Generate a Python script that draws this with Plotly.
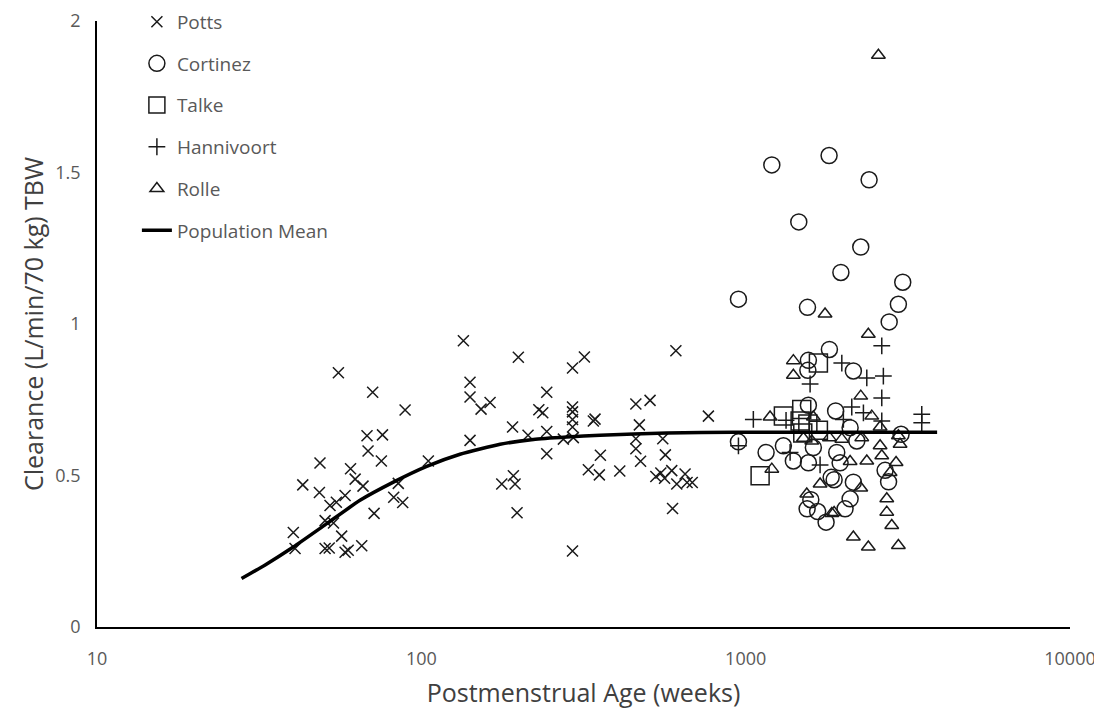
import plotly.graph_objects as go

# ---- data (Postmenstrual age in weeks, clearance L/min/70kg) ----
potts_age = [40.3, 40.8, 43.1, 48.5, 48.7, 50.5, 50.5, 52.0, 52.3, 53.6, 54.7, 55.5, 56.8, 58.2,
             58.2, 59.5, 60.5, 62.5, 65.5, 66.1, 68.0, 68.5, 70.8, 71.5, 75.3, 75.9, 82.2, 84.9,
             87.6, 89.1, 105.1, 134.8, 141.3, 141.3, 141.3, 152.8, 162.9, 177.0, 191.1, 192.2,
             194.5, 197.3, 199.1, 213.3, 230.3, 236.8, 243.6, 243.6, 243.6, 274.1, 292.5, 292.5,
             292.5, 292.5, 292.5, 292.5, 294.2, 318.2, 327.3, 339.1, 343.2, 353.9, 356.5, 409.1,
             458.6, 458.6, 458.6, 470.1, 474.2, 507.2, 528.5, 547.6, 562.3, 555.2, 565.5, 591.7,
             595.1, 609.3, 613.2, 650.4, 659.7, 684.5, 767.4]
potts_cl = [0.312, 0.259, 0.469, 0.444, 0.541, 0.351, 0.259, 0.261, 0.401, 0.343, 0.412, 0.839,
            0.300, 0.434, 0.247, 0.253, 0.522, 0.488, 0.268, 0.465, 0.631, 0.581, 0.775, 0.375,
            0.548, 0.634, 0.428, 0.474, 0.411, 0.716, 0.548, 0.945, 0.808, 0.759, 0.616, 0.719,
            0.741, 0.472, 0.660, 0.499, 0.472, 0.377, 0.890, 0.633, 0.717, 0.707, 0.775, 0.645,
            0.572, 0.620, 0.855, 0.726, 0.710, 0.685, 0.660, 0.251, 0.625, 0.891, 0.519, 0.680,
            0.686, 0.502, 0.567, 0.515, 0.736, 0.621, 0.588, 0.667, 0.547, 0.748, 0.497, 0.508,
            0.491, 0.621, 0.568, 0.516, 0.391, 0.912, 0.472, 0.505, 0.477, 0.477, 0.696]

cortinez_age = [950, 1204, 1458, 1551, 1808, 1966, 2264, 2402, 3050, 2957, 2770, 1812, 1561, 1555,
                2148, 1561, 1894, 2099, 3014, 950, 1307, 1156, 1403, 1561, 1617, 1909, 2201, 1955,
                2691, 2758, 1835, 1874, 2148, 1588, 1547, 1667, 1770, 2025, 2099]
cortinez_cl = [1.082, 1.525, 1.337, 1.055, 1.556, 1.170, 1.254, 1.476, 1.138, 1.065, 1.007, 0.916,
               0.880, 0.847, 0.845, 0.732, 0.713, 0.658, 0.636, 0.611, 0.598, 0.576, 0.548, 0.542,
               0.592, 0.576, 0.614, 0.542, 0.517, 0.479, 0.494, 0.486, 0.478, 0.420, 0.390, 0.381,
               0.346, 0.390, 0.423]

talke_age = [1108, 1676, 1307, 1489, 1472, 1676, 1500, 1555]
talke_cl = [0.499, 0.871, 0.696, 0.718, 0.680, 0.649, 0.640, 0.670]

hannivoort_age = [950, 1056, 1332, 1371, 1580, 1696, 1979, 2363, 2658, 2628, 2628, 2124, 2307,
                  2001, 2628, 3491, 3491]
hannivoort_cl = [0.598, 0.685, 0.682, 0.576, 0.802, 0.535, 0.871, 0.822, 0.828, 0.928, 0.756,
                 0.726, 0.707, 0.685, 0.680, 0.702, 0.674]

rolle_age = [2566, 1757, 2389, 1403, 1403, 1189, 1617, 2264, 2448, 2597, 1507, 1812, 1599, 1979,
             2280, 2957, 2993, 2597, 2628, 2363, 2099, 2909, 2788, 1204, 1543, 1696, 1843, 2264,
             2723, 2723, 2821, 2148, 2389, 2957, 1874]
rolle_cl = [1.887, 1.033, 0.966, 0.879, 0.831, 0.693, 0.693, 0.762, 0.696, 0.660, 0.623, 0.625,
            0.614, 0.620, 0.625, 0.631, 0.603, 0.598, 0.565, 0.548, 0.546, 0.543, 0.510, 0.521,
            0.439, 0.472, 0.375, 0.459, 0.423, 0.379, 0.335, 0.297, 0.264, 0.269, 0.378]

mean_age = [27.9, 33.0, 40.3, 51.1, 64.7, 82.0, 103.9, 131.6, 174.9, 221.5, 280.8, 355.6, 571.2,
            916.6, 3893]
mean_cl = [0.160, 0.205, 0.264, 0.341, 0.418, 0.478, 0.530, 0.570, 0.603, 0.619, 0.627, 0.633,
           0.640, 0.643, 0.643]

x_ticks = [10, 100, 1000, 10000]
x_ticktext = ["10", "100", "1000", "10000"]

FONT = "Open Sans"
GREY = "#595959"
INK = "#1a1a1a"

fig = go.Figure()

def add_pts(name, xs, ys, symbol, size, group):
    fig.add_trace(go.Scatter(
        x=xs, y=ys, mode="markers", name=name, legendgroup=group,
        marker=dict(symbol=symbol, size=size, color=INK,
                    line=dict(color=INK, width=1.5)),
    ))

add_pts("Potts", potts_age, potts_cl, "x-thin-open", 11, "a")
add_pts("Cortinez", cortinez_age, cortinez_cl, "circle-open", 16, "b")
add_pts("Talke", talke_age, talke_cl, "square-open", 18, "c")
add_pts("Hannivoort", hannivoort_age, hannivoort_cl, "cross-thin-open", 12, "d")
add_pts("Rolle", rolle_age, rolle_cl, "triangle-up-open", 12, "e")

fig.add_trace(go.Scatter(
    x=mean_age, y=mean_cl, mode="lines", name="Population Mean", legendgroup="f",
    line=dict(color="black", width=3.5, shape="spline", smoothing=0.5),
))

# page has an 8px body margin: figure is 1094x707 placed at (8,8)
fig.update_layout(
    width=1094, height=707,
    paper_bgcolor="white", plot_bgcolor="white",
    margin=dict(l=89, r=32, t=13, b=88, autoexpand=False),
    font=dict(family=FONT, color=GREY),
    legend=dict(x=0.041, y=1.030, xanchor="left", yanchor="top",
                font=dict(size=19, color=GREY, family=FONT),
                tracegroupgap=14, itemsizing="trace",
                bgcolor="rgba(0,0,0,0)"),
    xaxis=dict(type="log", range=[1, 4], tickvals=x_ticks, ticktext=x_ticktext,
               showgrid=False, zeroline=False, showline=True, linecolor="black", linewidth=2,
               ticks="", ticklabelstandoff=14, automargin=False, ticklabeloverflow="allow",
               tickfont=dict(size=18, color=GREY, family=FONT),
               title=dict(text="Postmenstrual Age (weeks)", font=dict(size=25, color="#404040", family=FONT),
                          standoff=16)),
    yaxis=dict(range=[0, 2], dtick=0.5, tickformat="~g",
               showgrid=False, zeroline=False, showline=True, linecolor="black", linewidth=1.5,
               ticks="", ticklabelstandoff=11, automargin=False, ticklabeloverflow="allow",
               tickfont=dict(size=18, color=GREY, family=FONT),
               title=dict(text="Clearance (L/min/70 kg) TBW", font=dict(size=25, color="#404040", family=FONT),
                          standoff=5)),
)

fig.write_html("out.html")
